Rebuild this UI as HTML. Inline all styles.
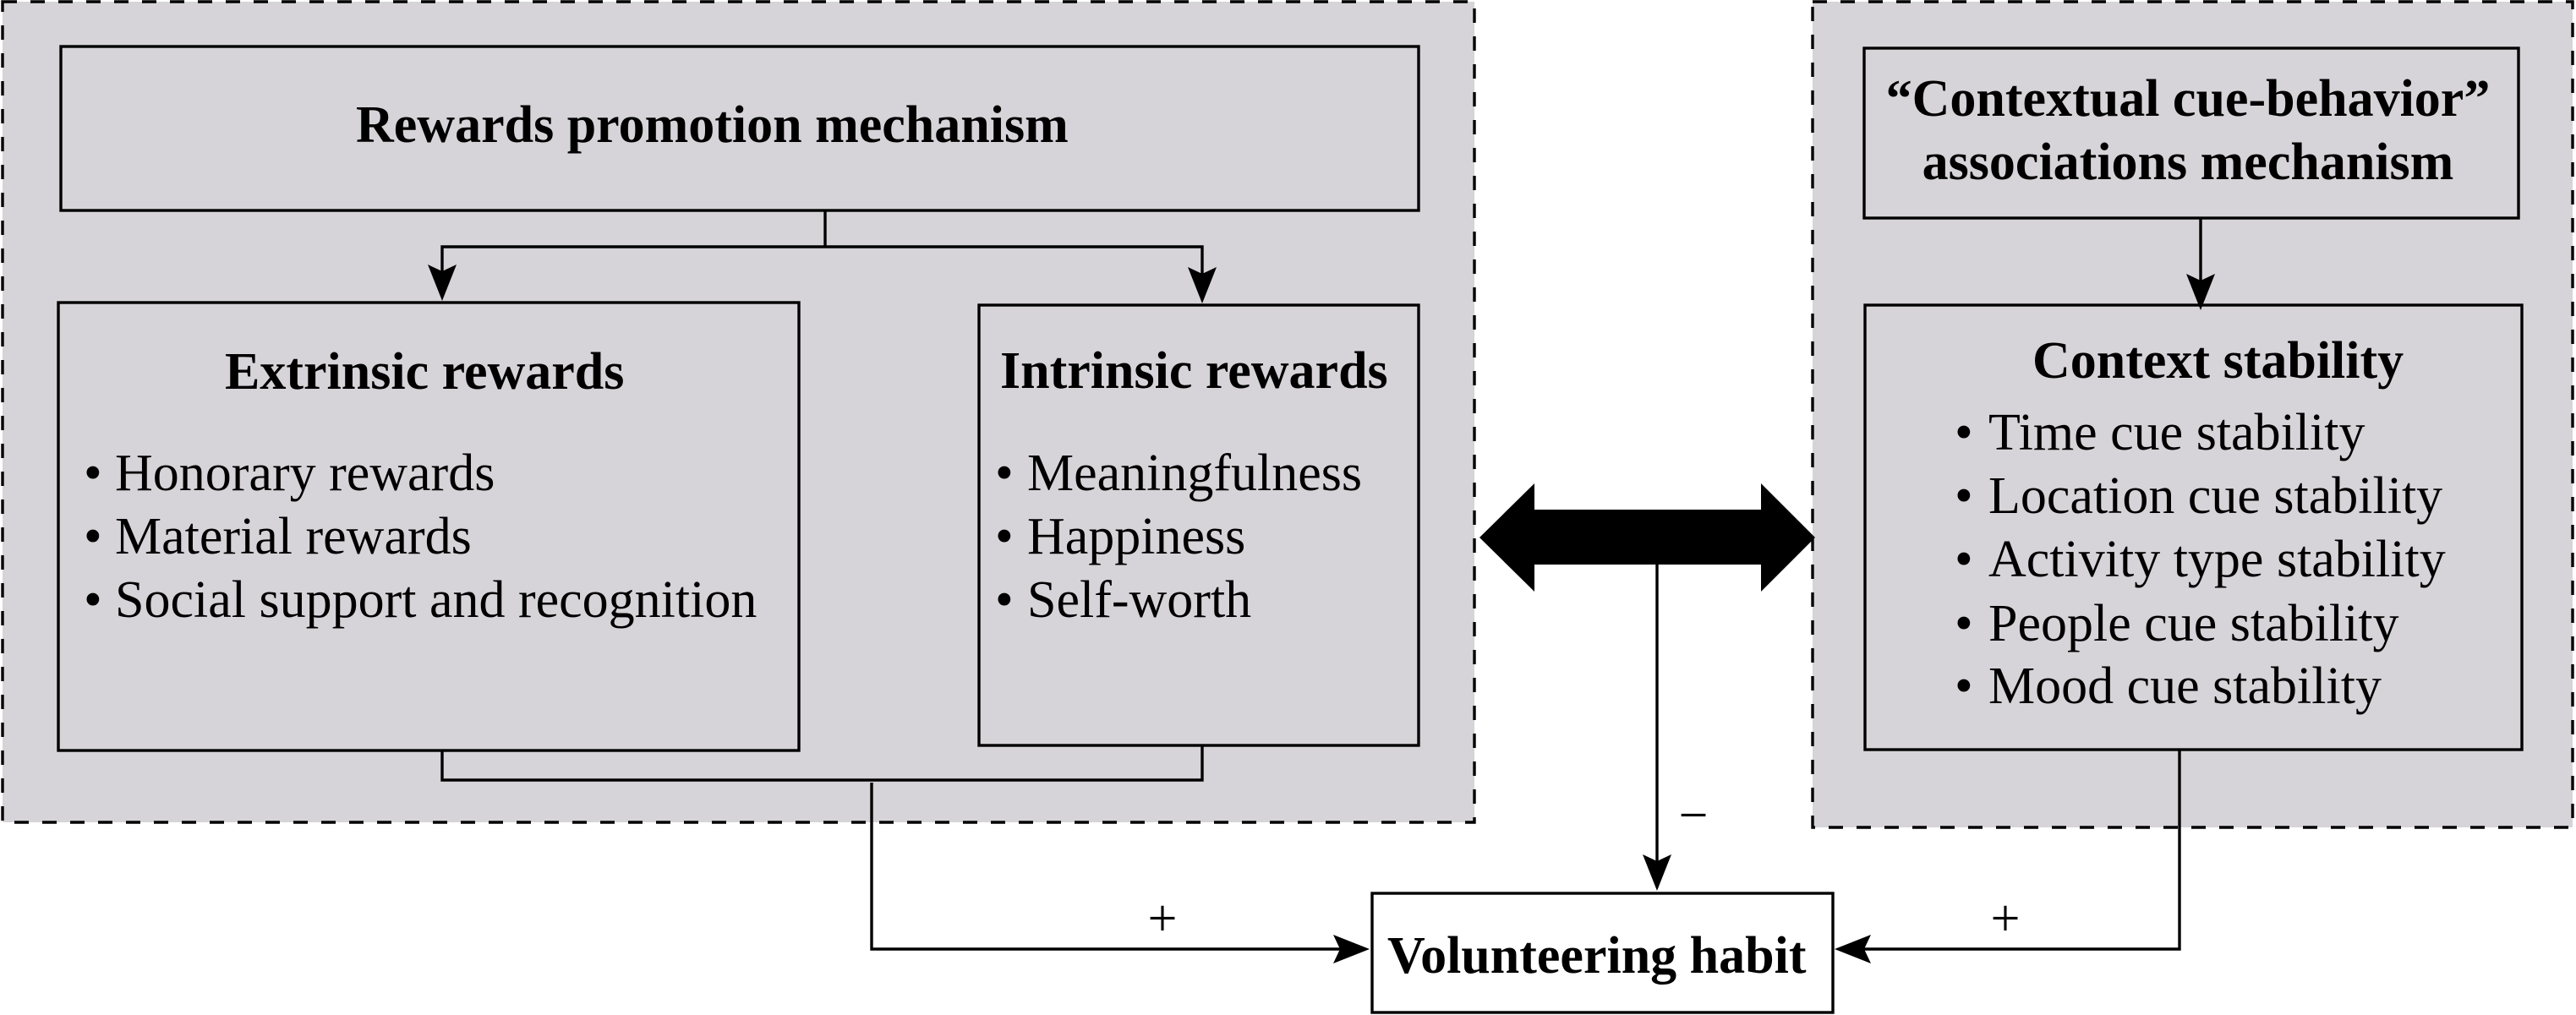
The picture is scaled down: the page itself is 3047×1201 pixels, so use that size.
<!DOCTYPE html>
<html>
<head>
<meta charset="utf-8">
<style>
  html, body { margin: 0; padding: 0; background: #ffffff; }
  svg { display: block; }
  text { font-family: "Liberation Serif", "Times New Roman", serif; fill: #000; }
  .b { font-weight: bold; font-size: 62px; }
  .r { font-size: 62px; }
</style>
</head>
<body>
<svg width="3047" height="1201" viewBox="0 0 3047 1201" xmlns="http://www.w3.org/2000/svg">
  <rect x="0" y="0" width="3047" height="1201" fill="#ffffff"/>

  <!-- Group backgrounds (dashed) -->
  <rect x="3" y="2" width="1741" height="971" fill="#d6d4d8" stroke="#000" stroke-width="3.4" stroke-dasharray="17 16"/>
  <rect x="2144" y="2" width="899" height="977" fill="#d6d4d8" stroke="#000" stroke-width="3.4" stroke-dasharray="17 16"/>

  <!-- Boxes -->
  <rect x="72" y="55" width="1606" height="194" fill="none" stroke="#000" stroke-width="3.4"/>
  <rect x="69" y="358" width="876" height="530" fill="none" stroke="#000" stroke-width="3.4"/>
  <rect x="1158" y="361" width="520" height="521" fill="none" stroke="#000" stroke-width="3.4"/>
  <rect x="2205" y="57" width="774" height="201" fill="none" stroke="#000" stroke-width="3.4"/>
  <rect x="2206" y="361" width="777" height="526" fill="none" stroke="#000" stroke-width="3.4"/>
  <rect x="1623" y="1057" width="545" height="141" fill="#fff" stroke="#000" stroke-width="3.4"/>

  <!-- Connectors -->
  <g fill="none" stroke="#000" stroke-width="3.4">
    <polyline points="976,249 976,292"/>
    <polyline points="523,330 523,292 1422,292 1422,330"/>
    <polyline points="523,888 523,923 1422,923 1422,882"/>
    <polyline points="1031,926 1031,1123 1590,1123"/>
    <polyline points="1960,668 1960,1025"/>
    <polyline points="2603,258 2603,335"/>
    <polyline points="2578,887 2578,1123 2200,1123"/>
  </g>

  <!-- Arrowheads -->
  <g fill="#000">
    <polygon points="523,356 506,313 523,321 540,313"/>
    <polygon points="1422,359 1405,316 1422,324 1439,316"/>
    <polygon points="2603,367 2586,324 2603,332 2620,324"/>
    <polygon points="1960,1054 1943,1011 1960,1019 1977,1011"/>
    <polygon points="1620,1123 1577,1106 1585,1123 1577,1140"/>
    <polygon points="2170,1123 2213,1106 2205,1123 2213,1140"/>
    <polygon points="1750,636 1815,572 1815,603 2083,603 2083,572 2147,636 2083,700 2083,668 1815,668 1815,700"/>
  </g>

  <!-- Titles -->
  <text class="b" x="421" y="168">Rewards promotion mechanism</text>
  <text class="b" x="266" y="460">Extrinsic rewards</text>
  <text class="b" x="1183" y="459">Intrinsic rewards</text>
  <text class="b" x="2588" y="137" text-anchor="middle">“Contextual cue-behavior”</text>
  <text class="b" x="2588" y="212" text-anchor="middle">associations mechanism</text>
  <text class="b" x="2404" y="447">Context stability</text>
  <text class="b" x="1641" y="1151">Volunteering habit</text>

  <!-- Extrinsic bullets -->
  <text class="r" x="99" y="580">•</text>
  <text class="r" x="136" y="580">Honorary rewards</text>
  <text class="r" x="99" y="655">•</text>
  <text class="r" x="136" y="655">Material rewards</text>
  <text class="r" x="99" y="730">•</text>
  <text class="r" x="136" y="730">Social support and recognition</text>

  <!-- Intrinsic bullets -->
  <text class="r" x="1177" y="580">•</text>
  <text class="r" x="1215" y="580">Meaningfulness</text>
  <text class="r" x="1177" y="655">•</text>
  <text class="r" x="1215" y="655">Happiness</text>
  <text class="r" x="1177" y="730">•</text>
  <text class="r" x="1215" y="730">Self-worth</text>

  <!-- Context stability bullets -->
  <text class="r" x="2312" y="532">•</text>
  <text class="r" x="2352" y="532">Time cue stability</text>
  <text class="r" x="2312" y="607">•</text>
  <text class="r" x="2352" y="607">Location cue stability</text>
  <text class="r" x="2312" y="682">•</text>
  <text class="r" x="2352" y="682">Activity type stability</text>
  <text class="r" x="2312" y="758">•</text>
  <text class="r" x="2352" y="758">People cue stability</text>
  <text class="r" x="2312" y="832">•</text>
  <text class="r" x="2352" y="832">Mood cue stability</text>

  <!-- Signs -->
  <text class="r" x="1375" y="1107" text-anchor="middle">+</text>
  <text class="r" x="2372" y="1107" text-anchor="middle">+</text>
  <text class="r" x="2003" y="985" text-anchor="middle">−</text>
</svg>
</body>
</html>
